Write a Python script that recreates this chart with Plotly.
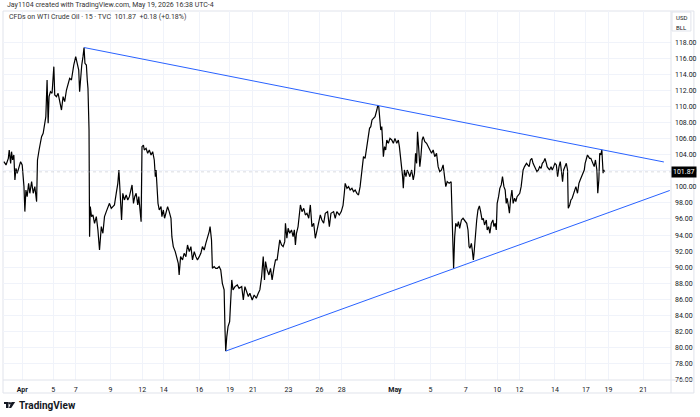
import plotly.graph_objects as go

# WTI crude oil CFD, 15 min bars, x = trading sessions counted from Apr 1 (weekends removed)
session_days = [
    -1.03, -0.91, -0.78, -0.73, -0.65, -0.60, -0.54, -0.47, -0.41, -0.35, -0.28, -0.17, -0.09,
    0.00, 0.10, 0.15, 0.21, 0.28, 0.36, 0.43, 0.53, 0.62, 0.71, 0.81, 0.86, 0.95,
    1.09, 1.18, 1.27, 1.33, 1.40, 1.46, 1.51, 1.59, 1.68, 1.78, 1.83, 1.93,
    2.02, 2.11, 2.21, 2.30, 2.39, 2.49, 2.58, 2.67, 2.77, 2.82, 2.90,
    3.01, 3.08, 3.18, 3.23, 3.29, 3.35, 3.42, 3.48, 3.53, 3.61, 3.66, 3.70, 3.76, 3.79, 3.83, 3.90, 3.98,
    4.07, 4.17, 4.26, 4.35, 4.45, 4.54, 4.63, 4.73, 4.91,
    5.01, 5.10, 5.19, 5.29, 5.38, 5.44, 5.51, 5.59, 5.66, 5.75, 5.85, 5.94,
    6.03, 6.13, 6.18, 6.26, 6.33, 6.41, 6.50, 6.56, 6.63, 6.69, 6.74, 6.82, 6.87, 6.97,
    7.06, 7.15, 7.25, 7.34, 7.43, 7.49, 7.53, 7.58, 7.64, 7.71, 7.81, 7.86, 7.94,
    8.01, 8.09, 8.18, 8.27, 8.37, 8.42, 8.50, 8.61, 8.69, 8.78, 8.83, 8.91,
    9.02, 9.11, 9.21, 9.30, 9.40, 9.49, 9.58, 9.68, 9.77, 9.86, 9.96,
    10.05, 10.14, 10.24, 10.33, 10.42, 10.52, 10.57, 10.65, 10.70, 10.80, 10.89, 10.98,
    11.08, 11.17, 11.26, 11.36, 11.41, 11.45, 11.51, 11.58, 11.67, 11.73, 11.79, 11.86, 11.97,
    12.10, 12.20, 12.35, 12.44, 12.53, 12.63, 12.72, 12.81, 12.94,
    13.05, 13.17, 13.28, 13.37, 13.47, 13.56, 13.63, 13.69, 13.78, 13.88, 13.97,
    14.06, 14.16, 14.25, 14.34, 14.40, 14.49, 14.59, 14.68, 14.77, 14.81, 14.89, 14.96,
    15.05, 15.15, 15.24, 15.31, 15.37, 15.43, 15.52, 15.59, 15.65, 15.74, 15.84, 15.93,
    16.02, 16.12, 16.21, 16.30, 16.40, 16.49, 16.58, 16.68, 16.77, 16.86, 16.96,
    17.05, 17.18, 17.28, 17.37, 17.52, 17.61, 17.70, 17.84, 17.95,
    18.05, 18.12, 18.17, 18.27, 18.36, 18.45, 18.55, 18.64, 18.73, 18.83, 18.92,
    19.01, 19.11, 19.16, 19.20, 19.29, 19.39, 19.48, 19.54, 19.61, 19.68, 19.76, 19.85, 19.95,
    20.00, 20.06, 20.13, 20.17, 20.23, 20.28, 20.32, 20.38, 20.45, 20.51, 20.60, 20.69, 20.79, 20.88, 20.97,
    21.07, 21.16, 21.22, 21.29, 21.35, 21.40, 21.44, 21.50, 21.59, 21.66, 21.74, 21.81, 21.91,
    22.00, 22.07, 22.13, 22.19, 22.24, 22.30, 22.37, 22.43, 22.50, 22.56, 22.65, 22.75, 22.84, 22.93,
    23.03, 23.12, 23.21, 23.31, 23.40, 23.49, 23.59, 23.68, 23.77, 23.83, 23.91,
    24.02, 24.13, 24.17, 24.20, 24.27, 24.33, 24.39, 24.47, 24.54, 24.61, 24.71, 24.80, 24.86, 24.93,
    25.01, 25.08, 25.14, 25.19, 25.27, 25.32, 25.38, 25.42, 25.45, 25.51, 25.57, 25.64, 25.72, 25.79, 25.87, 25.94,
    26.01, 26.11, 26.16, 26.24, 26.31, 26.39, 26.48, 26.54, 26.61, 26.67, 26.72, 26.80, 26.87, 26.95,
    27.02, 27.10, 27.17, 27.23, 27.28, 27.36, 27.41, 27.47, 27.55, 27.62, 27.70, 27.77, 27.84, 27.92, 27.99,
    28.07, 28.12, 28.18, 28.26, 28.31, 28.37, 28.44, 28.52, 28.59, 28.67, 28.74, 28.82, 28.89, 28.96,
    29.04, 29.11, 29.19, 29.26, 29.34, 29.41, 29.49, 29.53, 29.60, 29.67, 29.75, 29.82, 29.90, 29.97,
    30.05, 30.12, 30.20, 30.27, 30.35, 30.40, 30.46, 30.53, 30.61, 30.68, 30.72, 30.80, 30.87, 30.94,
    31.02, 31.09, 31.15, 31.24, 31.32, 31.39, 31.47, 31.54, 31.62, 31.67, 31.73, 31.80, 31.86, 31.92, 31.99,
    32.08, 32.18, 32.25, 32.33, 32.38, 32.44, 32.49, 32.55, 32.61, 32.65, 32.68, 32.72, 32.76,
]

close_prices = [
    103.14, 102.73, 103.55, 104.59, 102.93, 104.38, 103.35, 103.97, 100.86, 102.31, 101.69, 102.52, 103.14,
    102.73, 100.03, 96.92, 99.61, 98.78, 100.44, 99.20, 100.65, 99.20, 100.03, 98.16, 103.35, 104.59,
    106.25, 106.67, 107.91, 108.74, 113.31, 107.91, 111.23, 111.85, 111.65, 114.97, 111.44, 111.23,
    111.65, 110.61, 109.57, 111.23, 110.61, 112.06, 112.89, 113.51, 113.31, 114.14, 115.17,
    116.21, 115.59, 114.55, 111.85, 113.72, 115.17, 116.21, 117.35, 115.38, 115.17, 113.31, 112.27, 107.08, 93.80, 97.54, 96.29, 96.50,
    95.46, 96.29, 94.63, 92.14, 95.05, 94.22, 96.29, 96.92, 97.95,
    97.33, 97.54, 97.75, 99.20, 100.44, 102.10, 98.37, 95.88, 99.20, 98.37, 98.99, 98.37,
    98.78, 99.61, 100.24, 97.95, 98.78, 99.20, 97.75, 98.78, 96.71, 95.67, 105.01, 105.21, 104.59, 104.80,
    104.18, 104.59, 103.97, 104.38, 103.35, 101.27, 102.10, 99.20, 97.95, 97.12, 97.54, 96.29, 97.12,
    96.09, 96.71, 97.54, 96.92, 96.09, 93.80, 92.56, 91.94, 91.31, 90.48, 89.03, 91.31,
    90.90, 91.73, 91.31, 92.76, 91.94, 92.56, 90.90, 91.94, 91.31, 90.90, 91.31,
    91.73, 92.56, 92.14, 92.97, 93.60, 94.43, 95.05, 93.39, 89.86, 90.07, 89.86, 89.86,
    90.07, 89.66, 87.99, 87.17, 82.19, 79.55, 81.36, 82.60, 83.22, 86.75, 88.41, 87.17, 87.58,
    87.79, 87.37, 87.58, 85.92, 87.58, 86.75, 86.34, 86.75, 85.92,
    86.54, 86.13, 86.75, 87.17, 88.83, 91.32, 88.41, 90.69, 89.66, 89.03, 89.86,
    88.41, 89.86, 90.90, 90.90, 92.15, 93.39, 92.77, 92.56, 93.18, 95.47, 93.60, 94.84,
    94.22, 94.64, 93.81, 94.64, 92.77, 94.22, 95.05, 96.71, 97.75, 96.92, 97.33, 96.50,
    96.71, 96.09, 97.75, 95.05, 95.47, 93.60, 94.64, 95.47, 96.50, 95.88, 95.47,
    96.71, 96.92, 95.05, 96.71, 96.92, 96.09, 96.92, 96.50, 96.92,
    97.70, 99.20, 100.44, 99.82, 100.03, 99.61, 99.82, 99.41, 99.61, 99.20, 98.99,
    100.03, 102.10, 103.35, 103.76, 103.55, 105.01, 106.04, 107.29, 107.50, 108.33, 108.53, 108.74, 109.57,
    110.10, 109.99, 108.33, 107.08, 107.50, 105.84, 103.76, 105.01, 104.59, 105.84, 105.42, 106.04, 105.84, 105.42, 106.04,
    105.42, 105.84, 105.01, 103.76, 102.52, 101.27, 99.82, 102.10, 101.27, 102.10, 101.69, 101.27, 102.10,
    100.86, 101.69, 104.18, 102.93, 106.87, 105.01, 102.52, 103.76, 105.84, 106.25, 105.63, 105.42, 105.01, 104.80,
    104.18, 104.59, 103.76, 104.18, 102.52, 101.89, 102.10, 102.73, 101.27, 100.03, 100.65,
    100.44, 100.65, 97.95, 94.63, 89.83, 93.80, 95.46, 95.05, 95.67, 94.84, 95.88, 96.09, 95.88, 95.67,
    95.46, 94.63, 92.56, 92.35, 92.97, 92.14, 90.90, 91.73, 92.56, 94.84, 95.88, 97.12, 97.62, 96.92, 95.88, 96.09,
    95.26, 95.88, 94.63, 95.05, 94.22, 95.46, 95.88, 95.05, 95.46, 94.63, 97.95, 98.78, 99.82, 100.24,
    101.27, 100.03, 99.61, 97.95, 98.58, 97.54, 96.71, 98.37, 99.61, 97.95, 98.58, 98.16, 98.78, 98.99, 99.20,
    100.03, 101.27, 102.10, 102.52, 102.73, 102.93, 102.73, 102.52, 103.35, 103.55, 102.93, 102.52, 102.31, 101.89,
    102.10, 102.52, 102.31, 102.93, 103.14, 103.55, 102.93, 102.52, 102.31, 102.10, 102.52, 102.10, 102.52, 102.93,
    102.73, 101.27, 102.52, 103.14, 101.69, 100.65, 102.10, 102.52, 102.93, 102.10, 97.33, 97.75, 98.37, 98.58,
    99.20, 99.61, 100.03, 99.20, 100.44, 100.86, 101.27, 101.69, 102.10, 102.93, 103.35, 103.97, 103.76, 103.55, 103.55,
    102.93, 102.52, 103.35, 102.10, 99.20, 100.86, 104.18, 103.97, 104.62, 102.90, 101.70, 102.10, 101.87,
]

upper_trend_days = [3.48, 36.10]
upper_trend_prices = [117.35, 103.10]
lower_trend_days = [11.45, 36.43]
lower_trend_prices = [79.55, 99.55]

date_tick_days = [0, 1.74, 3.01, 4.97, 6.75, 7.96, 9.96, 11.69, 12.98, 14.98, 16.72, 17.98,
                  20.97, 22.97, 24.95, 26.72, 27.98, 29.97, 31.71, 32.98, 34.94]
date_tick_labels = ["<b>Apr</b>", "5", "7", "9", "12", "14", "16", "19", "21", "23", "26", "28",
                    "<b>May</b>", "5", "7", "10", "12", "14", "17", "19", "21"]
price_ticks = list(range(76, 119, 2))
last_price = 101.87

FONT = "Roboto"
TXT = "#131722"
GRID = "#f0f3fa"
BORDER = "#e0e3eb"
BLUE = "#2962ff"

fig = go.Figure()
fig.add_trace(go.Scatter(x=session_days, y=close_prices, mode="lines",
                         line=dict(color="#000000", width=1.2), showlegend=False, hoverinfo="skip"))
fig.add_trace(go.Scatter(x=upper_trend_days, y=upper_trend_prices, mode="lines",
                         line=dict(color=BLUE, width=1), showlegend=False, hoverinfo="skip"))
fig.add_trace(go.Scatter(x=lower_trend_days, y=lower_trend_prices, mode="lines",
                         line=dict(color=BLUE, width=1), showlegend=False, hoverinfo="skip"))

fig.update_layout(
    width=700, height=417,
    margin=dict(l=3, r=26, t=11, b=37),
    paper_bgcolor="white", plot_bgcolor="white",
    font=dict(family=FONT, size=7, color=TXT),
    xaxis=dict(range=[-1.08, 36.5], tickvals=date_tick_days, ticktext=date_tick_labels,
               showgrid=True, gridcolor=GRID, gridwidth=1, zeroline=False, ticks="",
               showline=False, tickfont=dict(size=7, color=TXT), ticklabelstandoff=4),
    yaxis=dict(range=[75.95, 121.9], side="right", tickvals=price_ticks, tickformat=".2f",
               showgrid=True, gridcolor=GRID, gridwidth=1, zeroline=False, ticks="",
               showline=False, tickfont=dict(size=7, color=TXT), ticklabelstandoff=3),
)

# pane frame, price axis and time axis separators
fig.add_shape(type="rect", xref="paper", yref="paper", x0=0, x1=1.0343, y0=-0.0352, y1=1,
              line=dict(color=BORDER, width=1), layer="below")
fig.add_shape(type="line", xref="paper", yref="paper", x0=1, x1=1, y0=-0.0352, y1=1,
              line=dict(color=BORDER, width=1))
fig.add_shape(type="line", xref="paper", yref="paper", x0=0, x1=1.0343, y0=0, y1=0,
              line=dict(color=BORDER, width=1))
# currency / unit box
fig.add_shape(type="rect", xref="paper", yref="paper", x0=1.0015, x1=1.0298, y0=0.9458, y1=0.9973,
              line=dict(color=BORDER, width=1))
# last price line
fig.add_shape(type="line", xref="paper", yref="y", x0=0, x1=1, y0=last_price, y1=last_price,
              line=dict(color="#b2b5be", width=1, dash="dot"), opacity=0.45)

fig.add_annotation(xref="paper", yref="y", x=1, y=last_price, xanchor="left", yanchor="middle",
                   text="%.2f" % last_price, showarrow=False, bgcolor="#000000",
                   font=dict(size=7, color="white"), borderpad=1, xshift=0)
fig.add_annotation(xref="paper", yref="paper", x=0.003, y=1.0163, xanchor="left", yanchor="middle",
                   text="Jay1104 created with TradingView.com, May 19, 2026 16:38 UTC-4",
                   showarrow=False, font=dict(size=7, color="#333333"))
fig.add_annotation(xref="paper", yref="paper", x=0.006, y=0.9837, xanchor="left", yanchor="middle",
                   text="CFDs on WTI Crude Oil · 15 · TVC  101.87  +0.18 (+0.18%)",
                   showarrow=False, font=dict(size=7, color="#333333"))
fig.add_annotation(xref="paper", yref="paper", x=1.0156, y=0.9837, xanchor="center", yanchor="middle",
                   text="USD", showarrow=False, font=dict(size=6, color=TXT))
fig.add_annotation(xref="paper", yref="paper", x=1.0156, y=0.9566, xanchor="center", yanchor="middle",
                   text="BLL", showarrow=False, font=dict(size=6, color=TXT))

# TradingView logo
fig.add_shape(type="rect", xref="paper", yref="paper", x0=0.0015, x1=0.0082, y0=-0.065, y1=-0.0596,
              fillcolor=TXT, line_width=0)
fig.add_shape(type="rect", xref="paper", yref="paper", x0=0.0045, x1=0.0082, y0=-0.0759, y1=-0.0596,
              fillcolor=TXT, line_width=0)
fig.add_shape(type="circle", xref="paper", yref="paper", x0=0.0089, x1=0.0119, y0=-0.0664, y1=-0.0596,
              fillcolor=TXT, line_width=0)
fig.add_shape(type="path", xref="paper", yref="paper",
              path="M 0.0127 -0.0596 L 0.0182 -0.0596 L 0.0122 -0.0759 L 0.0089 -0.0759 Z",
              fillcolor=TXT, line_width=0)
fig.add_annotation(xref="paper", yref="paper", x=0.0209, y=-0.0678, xanchor="left", yanchor="middle",
                   text="<b>TradingView</b>", showarrow=False, font=dict(size=10, color=TXT))

# the page body has an 8px default margin; drop it so the 700x417 figure fills the window
fig.write_html("out.html", config={"displayModeBar": False},
               post_script="document.body.style.margin='0';")
